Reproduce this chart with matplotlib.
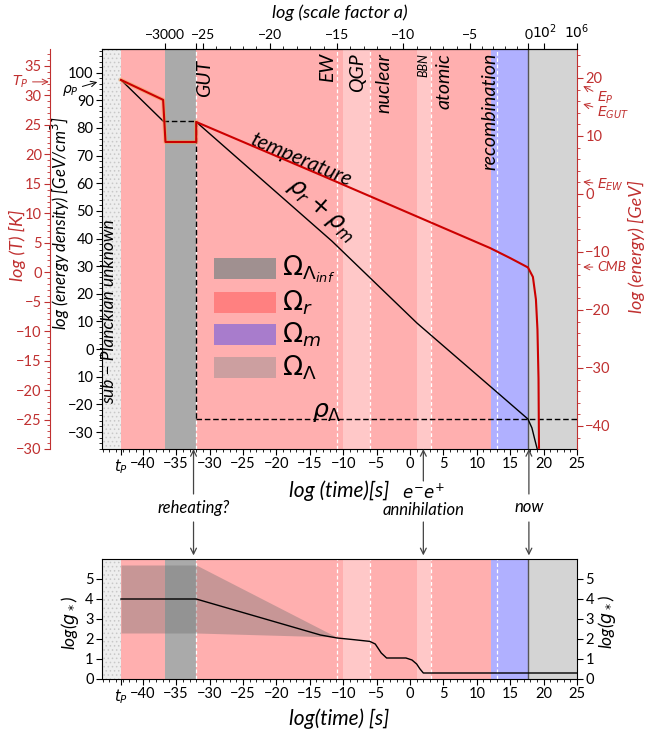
import matplotlib
matplotlib.use('Agg')
import matplotlib.pyplot as plt
from matplotlib.patches import Rectangle
import numpy as np

plt.rcParams['font.family'] = ['Lato', 'DejaVu Sans']
plt.rcParams['mathtext.fontset'] = 'dejavusans'
plt.rcParams['hatch.linewidth'] = 0.6
plt.rcParams['font.size'] = 10.5

# ---------------- data ----------------
t_planck = -43.26
t_lo, t_hi = -46.1, 25.0
t_now = 17.65

# background eras (log time [s])
era_start = [-43.26, -36.6, -32.0, -10.0, -6.0, 1.0, 3.1, 12.1, 17.65]
era_end = [-36.6, -32.0, -10.0, -6.0, 1.0, 3.1, 12.1, 17.65, 25.0]
era_color = ['#ffafaf', '#aaaaaa', '#ffafaf', '#ffc8c8', '#ffafaf',
             '#ffc8c8', '#ffafaf', '#b0b0ff', '#d4d4d4']
dashed_t = [-32.0, -10.9, -6.0, 3.1, 13.1]

region_names = ['GUT', 'EW', 'QGP', 'nuclear', 'BBN', 'atomic', 'recombination']
region_t = [-30.7, -12.3, -7.8, -3.9, 1.95, 5.1, 12.0]

# energy density rho_r + rho_m  (log GeV/cm^3)
rho_pre_t = [-43.26, -36.95]
rho_pre = [97.4, 82.5]
rho_post_t = [-32.0, -11.7, 1.05, 13.5, 17.65, 18.25, 18.7, 19.05]
rho_post = [82.2, 39.1, 9.4, -16.6, -25.3, -28.5, -32.9, -36.2]
rho_lambda = -25.3
rho_infl = 82.5

# temperature (log T [K])
temp_t = [-43.26, -36.95, -36.6, -32.0, -32.0, -13.47, 11.98, 15.0, 17.66,
          18.4, 18.85, 19.08, 19.24, 19.31]
temp_T = [32.63, 29.25, 22.1, 22.1, 25.5, 16.55, 4.11, 2.4, 0.81,
          -0.8, -4.6, -9.7, -18.1, -29.8]

# g_* (lower panel)
gs_t = [-43.26, -32.0, -13.4, -10.9, -8.5, -6.0, -5.2, -4.3, -3.5, -0.6,
        0.3, 1.0, 1.5, 2.0, 25.0]
gs = [4.0, 4.0, 2.2, 2.05, 1.97, 1.88, 1.75, 1.3, 1.05, 1.05,
      0.95, 0.75, 0.5, 0.3, 0.3]
band_t = [-43.26, -32.0, -11.0]
band_hi = [5.7, 5.7, 2.1]
band_lo = [2.3, 2.3, 2.1]

# scale factor axis
a_tick_t = [-36.6, -32.0, -31.0, -21.0, -10.9, -1.0, 9.0, 17.7, 20.1, 25.0]
a_tick_lab = ['\u22123000', '', '\u221225', '\u221220', '\u221215', '\u221210',
              '\u22125', '0', r'$10^2$', r'$10^6$']

rho_ticks = list(range(-30, 101, 10))
rho_labels = [str(v).replace('-', '\u2212') for v in rho_ticks]
rho_labels[rho_ticks.index(-10)] = '10'

legend_labels = [r'$\Omega_{\Lambda_{inf}}$', r'$\Omega_r$', r'$\Omega_m$', r'$\Omega_\Lambda$']
legend_colors = ['#a09090', '#ff8080', '#a87ccc', '#cc9fa0']

energy_marks = [r'$E_P$', r'$E_{GUT}$', r'$E_{EW}$', 'CMB']
energy_head = [18.6, 15.5, 2.1, -12.6]
energy_text = [16.6, 14.0, 1.55, -12.6]

events = ['reheating?', '$e^{-}e^{+}$\nannihilation', 'now']
event_t = [-32.4, 2.0, 17.8]

RED = '#c03030'
W, H = 647, 735

fig = plt.figure(figsize=(W / 100, H / 100), dpi=100)
ax = fig.add_axes([102 / W, 1 - 449 / H, 475 / W, 400 / H])
ax2 = fig.add_axes([102 / W, 1 - 679 / H, 475 / W, 120 / H])


def draw_bands(a):
    a.axvspan(t_lo, t_planck, facecolor='#eeeeee', edgecolor='#c8c8c8',
              hatch='....', lw=0, zorder=0)
    for x0, x1, c in zip(era_start, era_end, era_color):
        a.axvspan(x0, x1, color=c, lw=0, zorder=0)
    for x in dashed_t:
        a.axvline(x, color='white', ls=(0, (3, 2)), lw=0.9, zorder=1)
    a.axvline(t_now, color='#555555', lw=1, zorder=1)


def bottom_ticks(a):
    ticks = [t_planck] + list(range(-40, 26, 5))
    labels = [r'$t_P$'] + [str(v).replace('-', '\u2212') for v in range(-40, 26, 5)]
    a.set_xticks(ticks)
    a.set_xticklabels(labels)
    a.set_xticks(np.arange(-46, 26, 1), minor=True)
    a.tick_params(axis='x', which='major', length=4, pad=2)
    a.tick_params(axis='x', which='minor', length=2)


# ---------------- main panel ----------------
draw_bands(ax)
ax.plot(rho_pre_t, rho_pre, color='black', lw=1, zorder=3)
ax.plot(rho_post_t, rho_post, color='black', lw=1, zorder=3)
ax.plot([rho_pre_t[-1], -32.0], [rho_infl, rho_infl], color='black', lw=1,
        ls=(0, (4, 2)), zorder=3)
ax.plot([-32.0, -32.0], [rho_infl, rho_lambda], color='black', lw=1,
        ls=(0, (4, 2)), zorder=3)
ax.plot([-32.0, t_hi], [rho_lambda, rho_lambda], color='black', lw=1,
        ls=(0, (4, 2)), zorder=3)

ax.set_xlim(t_lo, t_hi)
ax.set_ylim(-36.15, 108.57)
bottom_ticks(ax)
ax.set_yticks(rho_ticks)
ax.set_yticklabels(rho_labels)
ax.set_yticks(np.arange(-36, 109, 2), minor=True)
ax.tick_params(axis='y', which='major', length=4, pad=2)
ax.tick_params(axis='y', which='minor', length=2)
ax.spines['right'].set_visible(False)

for name, t in zip(region_names, region_t):
    fs = 9 if name == 'BBN' else 14
    top = 104.6 if name == 'GUT' else 107.2
    ax.text(t, top, name, rotation=90, va='top', ha='center', fontsize=fs,
            style='italic', zorder=4)

ax.text(-45.0, 13.4, 'sub \u2212 Planckian unknown', rotation=90, va='center',
        ha='center', fontsize=12.5, style='italic', zorder=4)
ax.text(-16.3, 68.5, 'temperature', rotation=-23, va='center', ha='center',
        fontsize=15, style='italic', zorder=4)
ax.text(-13.2, 50.5, r'$\rho_r+\rho_m$', rotation=-41, va='center', ha='center',
        fontsize=17, zorder=4)
ax.text(-12.5, -23.0, r'$\rho_\Lambda$', va='center', ha='center',
        fontsize=18, zorder=4)

for i, (lab, col) in enumerate(zip(legend_labels, legend_colors)):
    y0 = [0.425, 0.34, 0.26, 0.1775][i]
    ax.add_patch(Rectangle((0.236, y0), 0.13, 0.0525, transform=ax.transAxes,
                           facecolor=col, lw=0, zorder=5))
    ax.text(0.378, y0 + 0.025, lab, transform=ax.transAxes, va='center',
            ha='left', fontsize=19, zorder=5)

ax.annotate(r'$\rho_P$', xy=(-0.01, 96.6), xycoords=('axes fraction', 'data'),
            xytext=(-0.05, 93.7), textcoords=('axes fraction', 'data'),
            ha='right', va='center', fontsize=10,
            arrowprops=dict(arrowstyle='->', lw=0.7, color='black',
                            shrinkA=1, shrinkB=0))
ax.set_xlabel('log (time)[s]', fontsize=15, style='italic', labelpad=3)
ax.set_ylabel(r'log (energy density) [GeV/cm$^3$]', fontsize=12, style='italic')
ax.yaxis.set_label_coords(-0.064, 0.565)

# temperature axis (outer left)
axT = ax.twinx()
axT.plot(temp_t[:5], temp_T[:5], color='#f0a050', lw=3, alpha=0.5, zorder=2)
axT.plot(temp_t, temp_T, color='#cc0000', lw=1.5, zorder=3)
axT.set_ylim(-29.83, 37.88)
for s in ['right', 'top', 'bottom']:
    axT.spines[s].set_visible(False)
axT.spines['left'].set_position(('axes', -0.109))
axT.spines['left'].set_color(RED)
axT.yaxis.set_ticks_position('left')
axT.yaxis.set_label_position('left')
axT.set_yticks(range(-30, 36, 5))
axT.set_yticks(range(-29, 38, 1), minor=True)
axT.tick_params(axis='y', which='both', colors=RED, labelcolor=RED)
axT.tick_params(axis='y', which='major', length=4, pad=2)
axT.tick_params(axis='y', which='minor', length=2)
axT.set_ylabel('log (T) [K]', color=RED, fontsize=13, style='italic')
axT.yaxis.set_label_coords(-0.16, 0.51)
axT.annotate(r'$T_P$', xy=(-0.112, 32.3), xycoords=('axes fraction', 'data'),
             xytext=(-0.155, 32.3), textcoords=('axes fraction', 'data'),
             ha='right', va='center', fontsize=10, color=RED,
             arrowprops=dict(arrowstyle='->', lw=0.7, color=RED,
                             shrinkA=1, shrinkB=0))

# energy axis (right)
axE = ax.twinx()
axE.set_ylim(-43.97, 25.0)
for s in ['left', 'top', 'bottom']:
    axE.spines[s].set_visible(False)
axE.spines['right'].set_color(RED)
axE.set_yticks(range(-40, 21, 10))
axE.set_yticks(range(-42, 25, 2), minor=True)
axE.tick_params(axis='y', which='both', colors=RED, labelcolor=RED)
axE.tick_params(axis='y', which='major', length=4, pad=2)
axE.tick_params(axis='y', which='minor', length=2)
axE.set_ylabel('log (energy) [GeV]', color=RED, fontsize=13, style='italic',
               rotation=90)
axE.yaxis.set_label_coords(1.107, 0.505)
for lab, yh, yt in zip(energy_marks, energy_head, energy_text):
    axE.annotate(lab, xy=(1.013, yh), xycoords=('axes fraction', 'data'),
                 xytext=(1.042, yt), textcoords=('axes fraction', 'data'),
                 ha='left', va='center', fontsize=10, style='italic', color=RED,
                 arrowprops=dict(arrowstyle='->', lw=0.7, color=RED,
                                 shrinkA=1, shrinkB=0))

# scale factor axis (top)
axA = ax.twiny()
axA.set_xlim(t_lo, t_hi)
for s in ['left', 'right', 'bottom']:
    axA.spines[s].set_visible(False)
axA.set_xticks(a_tick_t)
axA.set_xticklabels(a_tick_lab, fontsize=10)
minor_a = []
for x0, x1 in zip(a_tick_t[2:7], a_tick_t[3:8]):
    minor_a += list(np.linspace(x0, x1, 6)[1:-1])
axA.set_xticks(minor_a, minor=True)
axA.tick_params(axis='x', which='major', length=4, pad=2)
axA.tick_params(axis='x', which='minor', length=2)
axA.set_xlabel('log (scale factor a)', fontsize=13, style='italic', labelpad=3)
ax.set_xlim(t_lo, t_hi)

# ---------------- lower panel ----------------
draw_bands(ax2)
ax2.fill_between(band_t, band_lo, band_hi, color='#6e6e6e', alpha=0.38,
                 lw=0, zorder=2)
ax2.plot(gs_t, gs, color='black', lw=1, zorder=3)
ax2.set_xlim(t_lo, t_hi)
ax2.set_ylim(0, 6)
bottom_ticks(ax2)
ax2.set_yticks(range(0, 6))
ax2.tick_params(axis='y', which='major', length=4, pad=2, right=True,
                labelright=True)
ax2.set_xlabel('log(time) [s]', fontsize=15, style='italic', labelpad=2)
ax2.set_ylabel(r'log($g_*$)', fontsize=12.5, style='italic')
ax2.yaxis.set_label_coords(-0.045, 0.47)
fig.text(607 / W, 1 - 622 / H, r'log($g_*$)', rotation=90, fontsize=12.5,
         style='italic', ha='center', va='center')

# ---------------- event arrows between panels ----------------
event_y = [508, 500, 507]
for lab, t, yp in zip(events, event_t, event_y):
    xf = ax.transData.transform((t, 0))[0] / fig.bbox.width
    fig.text(xf, 1 - yp / H, lab, ha='center', va='center', fontsize=12,
             style='italic', linespacing=1.0)
    top_start = 494 if lab != events[1] else 481
    ax.annotate('', xy=(t, 0.0), xycoords=('data', 'axes fraction'),
                xytext=(t, -(top_start - 449) / 400),
                textcoords=('data', 'axes fraction'),
                arrowprops=dict(arrowstyle='->', lw=0.9, color='#444444',
                                shrinkA=0, shrinkB=0))
    ax2.annotate('', xy=(t, 1.03), xycoords=('data', 'axes fraction'),
                 xytext=(t, (679 - 522) / 120),
                 textcoords=('data', 'axes fraction'),
                 arrowprops=dict(arrowstyle='->', lw=0.9, color='#444444',
                                 shrinkA=0, shrinkB=0))

fig.savefig('out.png', dpi=100)
